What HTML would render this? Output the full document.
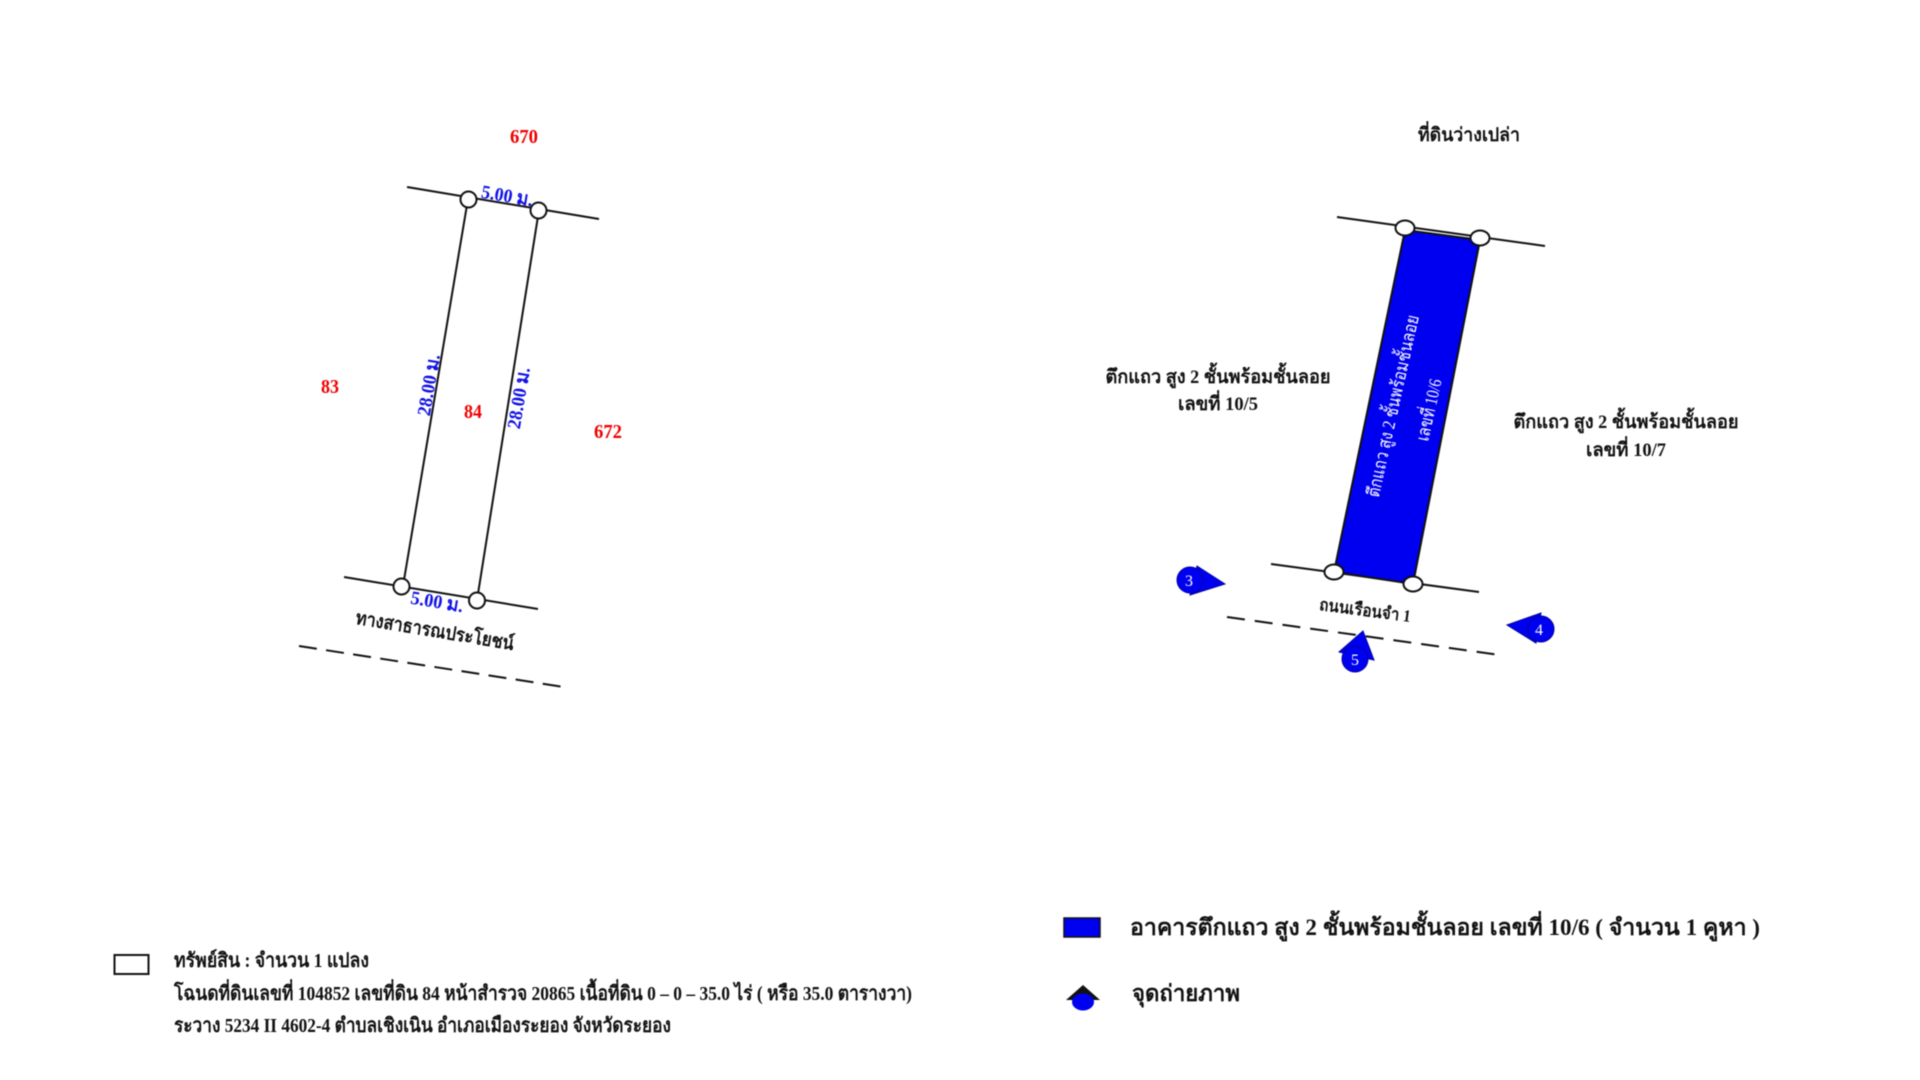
<!DOCTYPE html>
<html lang="th">
<head>
<meta charset="utf-8">
<title>แผนที่สังเขป</title>
<style>
html,body{margin:0;padding:0;background:#fff;width:1920px;height:1080px;overflow:hidden}
svg{display:block;filter:blur(0.6px)}
text{font-family:"Liberation Serif","Noto Serif CJK SC","DejaVu Serif",serif}
.r{fill:#f00000;font-size:20px;font-weight:bold;text-anchor:middle}
.b{fill:#1010e8;font-size:19px;font-weight:bold;text-anchor:middle}
.k{fill:#111;font-weight:bold;text-anchor:middle;font-size:19px}
.l{fill:#111;font-weight:bold;font-size:20px}
.w{fill:#fff;font-size:18px;text-anchor:middle}
.n{fill:#fff;font-size:16px;text-anchor:middle}
</style>
</head>
<body>
<svg width="1920" height="1080" viewBox="0 0 1920 1080" xmlns="http://www.w3.org/2000/svg">
<rect width="1920" height="1080" fill="#fff"/>

<!-- left parcel -->
<g stroke="#111" stroke-width="2" fill="none">
  <line x1="407" y1="187" x2="599" y2="219"/>
  <line x1="344" y1="577" x2="538" y2="609"/>
  <line x1="468" y1="199" x2="403" y2="586"/>
  <line x1="539" y1="210" x2="477" y2="600"/>
  <line x1="299" y1="646" x2="564" y2="687" stroke-dasharray="18 9.4"/>
</g>
<g stroke="#111" stroke-width="2" fill="#fff">
  <circle cx="468.500" cy="199.500" r="8"/>
  <circle cx="538.500" cy="210.500" r="8"/>
  <circle cx="401.500" cy="586.500" r="8"/>
  <circle cx="477" cy="600.500" r="8"/>
</g>
<text class="r" x="524" y="143" textLength="28" lengthAdjust="spacingAndGlyphs">670</text>
<text class="r" x="330" y="393" textLength="18" lengthAdjust="spacingAndGlyphs">83</text>
<text class="r" x="473" y="418" textLength="18" lengthAdjust="spacingAndGlyphs">84</text>
<text class="r" x="608" y="438" textLength="28" lengthAdjust="spacingAndGlyphs">672</text>
<text class="b" transform="translate(507,197) rotate(9.500)" y="5" textLength="52" lengthAdjust="spacingAndGlyphs">5.00 ม.</text>
<text class="b" transform="translate(437,602) rotate(9.500)" y="6" textLength="53" lengthAdjust="spacingAndGlyphs">5.00 ม.</text>
<text class="b" transform="translate(429,385) rotate(-80.500)" y="6" textLength="62" lengthAdjust="spacingAndGlyphs">28.00 ม.</text>
<text class="b" transform="translate(519,398) rotate(-80.500)" y="6" textLength="62" lengthAdjust="spacingAndGlyphs">28.00 ม.</text>
<text class="k" transform="translate(435,630) rotate(9.500)" y="7" font-size="20" textLength="160" lengthAdjust="spacingAndGlyphs">ทางสาธารณประโยชน์</text>

<!-- right parcel -->
<g transform="translate(-7,-2)">
  <g stroke="#111" stroke-width="2" fill="none">
    <line x1="1344" y1="219" x2="1552" y2="248"/>
    <line x1="1278" y1="566" x2="1486" y2="594"/>
    <line x1="1234" y1="619" x2="1507" y2="657" stroke-dasharray="18 10"/>
  </g>
  <polygon points="1412,232 1487,242 1420,586 1341,574" fill="#0000f0" stroke="#111" stroke-width="2"/>
  <g stroke="#111" stroke-width="2" fill="#fff">
    <ellipse cx="1412" cy="230" rx="9.500" ry="7.500"/>
    <ellipse cx="1487" cy="240" rx="9.500" ry="7.500"/>
    <ellipse cx="1341" cy="574" rx="9.500" ry="7.500"/>
    <ellipse cx="1420" cy="586" rx="9.500" ry="7.500"/>
  </g>
  <text class="w" transform="translate(1400,408) rotate(-77.500)" y="6" textLength="186" lengthAdjust="spacingAndGlyphs">ตึกแถว สูง 2 ชั้นพร้อมชั้นลอย</text>
  <text class="w" transform="translate(1436,412) rotate(-77.500)" y="6" textLength="63" lengthAdjust="spacingAndGlyphs">เลขที่ 10/6</text>
  <text class="k" x="1476" y="143" textLength="102" lengthAdjust="spacingAndGlyphs">ที่ดินว่างเปล่า</text>
  <text class="k" x="1225" y="385" textLength="225" lengthAdjust="spacingAndGlyphs">ตึกแถว สูง 2 ชั้นพร้อมชั้นลอย</text>
  <text class="k" x="1225" y="412" textLength="80" lengthAdjust="spacingAndGlyphs">เลขที่ 10/5</text>
  <text class="k" x="1633" y="430" textLength="225" lengthAdjust="spacingAndGlyphs">ตึกแถว สูง 2 ชั้นพร้อมชั้นลอย</text>
  <text class="k" x="1633" y="458" textLength="80" lengthAdjust="spacingAndGlyphs">เลขที่ 10/7</text>
  <text class="k" transform="translate(1372,613) rotate(7.500)" y="5" style="font-size:17px" textLength="92" lengthAdjust="spacingAndGlyphs">ถนนเรือนจำ 1</text>

  <!-- photo markers -->
  <g fill="#0000f0" stroke="#0000a0" stroke-width="1">
    <polygon points="1232,586 1204,568 1197,597"/>
    <circle cx="1197" cy="582" r="13"/>
    <polygon points="1514,627 1548,615 1543,645"/>
    <circle cx="1548" cy="631" r="13"/>
    <polygon points="1370,633 1346,654 1381,662"/>
    <circle cx="1362" cy="661" r="13"/>
  </g>
  <text class="n" x="1196" y="588">3</text>
  <text class="n" x="1546" y="637">4</text>
  <text class="n" x="1362" y="667">5</text>
</g>

<!-- legend left -->
<rect x="114.500" y="955" width="34" height="19" fill="#fff" stroke="#111" stroke-width="2"/>
<text class="l" x="174" y="967" textLength="195" lengthAdjust="spacingAndGlyphs">ทรัพย์สิน : จำนวน 1 แปลง</text>
<text class="l" x="174" y="1000" textLength="738" lengthAdjust="spacingAndGlyphs">โฉนดที่ดินเลขที่ 104852 เลขที่ดิน 84 หน้าสำรวจ 20865 เนื้อที่ดิน 0 – 0 – 35.0 ไร่ ( หรือ 35.0 ตารางวา)</text>
<text class="l" x="174" y="1032" textLength="497" lengthAdjust="spacingAndGlyphs">ระวาง 5234 II 4602-4 ตำบลเชิงเนิน อำเภอเมืองระยอง จังหวัดระยอง</text>

<!-- legend right -->
<rect x="1064" y="918" width="36" height="19" fill="#0000f0" stroke="#111" stroke-width="1.500"/>
<text class="l" x="1130" y="935" style="font-size:23px" textLength="630" lengthAdjust="spacingAndGlyphs">อาคารตึกแถว สูง 2 ชั้นพร้อมชั้นลอย  เลขที่ 10/6 ( จำนวน 1 คูหา )</text>
<polygon points="1083,985 1100,1000 1066,1000" fill="#111"/>
<ellipse cx="1083" cy="1002" rx="11" ry="8.500" fill="#0000f0"/>
<text class="l" x="1132" y="1001" style="font-size:23px" textLength="108" lengthAdjust="spacingAndGlyphs">จุดถ่ายภาพ</text>
</svg>
</body>
</html>
